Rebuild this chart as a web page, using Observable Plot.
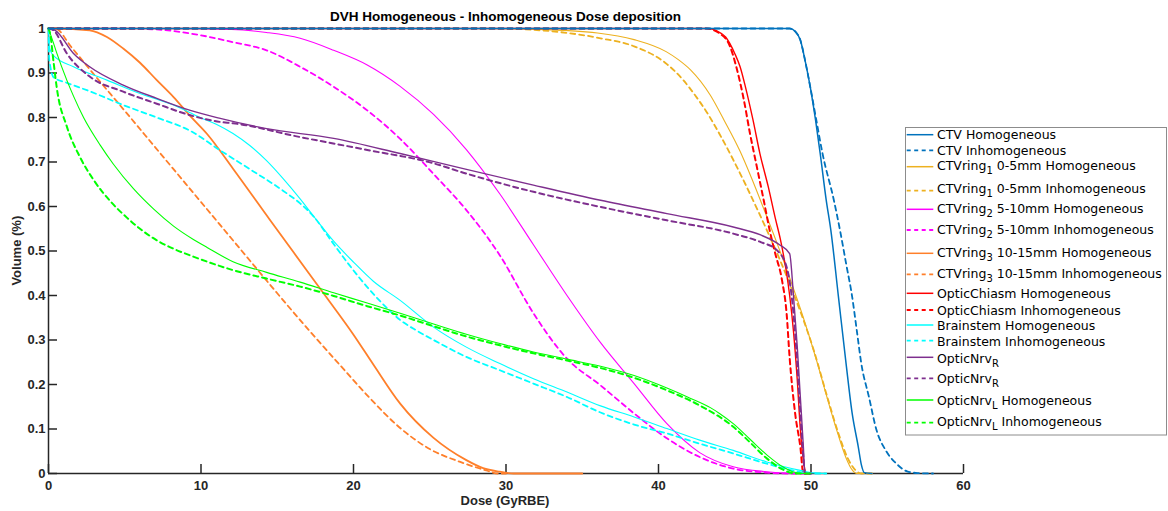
<!DOCTYPE html>
<html><head><meta charset="utf-8">
<script src="https://cdn.jsdelivr.net/npm/d3@7"></script>
<script src="https://cdn.jsdelivr.net/npm/@observablehq/plot@0.6"></script>
<style>
body{margin:0;background:#fff;}
#wrap{position:relative;width:1168px;height:511px;overflow:hidden;background:#fff;}
#overlay{position:absolute;left:0;top:0;pointer-events:none;}
</style></head><body><div id="wrap"></div>
<script>
const titleText = "DVH Homogeneous - Inhomogeneous Dose deposition";
const xLabel = "Dose (GyRBE)";
const yLabel = "Volume (%)";
const xTicks = [0,10,20,30,40,50,60];
const yTicks = [0,0.1,0.2,0.3,0.4,0.5,0.6,0.7,0.8,0.9,1];

// [dose, volume] pairs
const ctvHom = [[0,1],[48.6,1],[49.0,0.992],[49.3,0.974],[49.6,0.93],[49.95,0.869],[50.3,0.794],[50.6,0.72],[51.0,0.614],[51.3,0.547],[51.8,0.397],[52.3,0.247],[52.7,0.135],[53.1,0.06],[53.3,0.02],[53.5,0.002],[54,0]];
const ctvInh = [[0,1],[48.6,1],[49.0,0.992],[49.3,0.974],[49.6,0.93],[49.95,0.869],[50.35,0.794],[50.75,0.72],[51.5,0.614],[51.9,0.547],[52.3,0.472],[52.7,0.397],[53.0,0.322],[53.3,0.247],[53.8,0.172],[54.3,0.097],[54.9,0.052],[55.6,0.022],[56.3,0.005],[57,0.001],[58,0]];
const ring1Hom = [[0,1],[28,1],[32,0.998],[36,0.99],[38.4,0.975],[40.5,0.948],[41.3,0.93],[42.1,0.907],[43.4,0.85],[44.3,0.794],[45.35,0.724],[46.1,0.664],[46.9,0.595],[47.8,0.515],[48.6,0.44],[49.5,0.35],[50.4,0.25],[51.1,0.165],[51.8,0.085],[52.3,0.035],[52.7,0.008],[53.0,0],[53.5,0]];
const ring1Inh = [[0,1],[29,1],[31.8,0.997],[36.2,0.978],[38.4,0.96],[40.55,0.92],[41.6,0.885],[42.4,0.85],[43.2,0.81],[44.0,0.763],[44.9,0.705],[45.7,0.65],[46.5,0.592],[47.3,0.532],[48.0,0.477],[48.7,0.418],[49.4,0.355],[50.2,0.275],[51.0,0.18],[51.8,0.09],[52.4,0.035],[52.9,0.008],[53.3,0],[54,0]];
const ring2Hom = [[0,1],[8,1],[12,0.998],[14.3,0.991],[16.5,0.978],[18.7,0.951],[20.9,0.918],[23.06,0.87],[25.25,0.807],[27.4,0.728],[29.6,0.628],[31.8,0.514],[34.0,0.40],[36.2,0.294],[38.4,0.202],[40.55,0.112],[42.7,0.047],[44.9,0.015],[47.1,0.004],[49,0],[50,0]];
const ring2Inh = [[0,1],[5,1],[7,0.998],[9.95,0.985],[12,0.97],[14.3,0.951],[16.5,0.914],[18.7,0.869],[20.9,0.816],[23.06,0.752],[25.25,0.673],[27.4,0.592],[29.6,0.49],[31.8,0.36],[34.0,0.258],[36.2,0.198],[38.4,0.135],[40.55,0.079],[42.7,0.037],[44.9,0.011],[47.1,0.002],[48.5,0],[50,0]];
const ring3Hom = [[0,1],[0.5,1],[2.7,0.996],[3.83,0.981],[4.9,0.955],[6.0,0.923],[7.1,0.884],[8.2,0.846],[9.3,0.803],[10.4,0.763],[12.1,0.685],[14.5,0.571],[16.07,0.497],[18.25,0.395],[20.0,0.312],[21.3,0.245],[23.06,0.157],[25.25,0.08],[27.4,0.03],[28.5,0.012],[29.6,0.004],[30.5,0],[35,0]];
const ring3Inh = [[0,1],[0.44,1],[1.5,0.958],[3,0.896],[5,0.815],[7,0.733],[9,0.651],[11,0.569],[13,0.487],[15,0.405],[17,0.325],[19,0.248],[21,0.172],[23,0.104],[25,0.055],[27,0.026],[28.7,0.007],[29.5,0],[30,0]];
const chiasmHom = [[0,1],[43.3,1],[43.8,0.995],[44.4,0.981],[45.0,0.944],[45.35,0.914],[45.7,0.869],[46.2,0.794],[46.65,0.719],[47.2,0.644],[47.65,0.575],[48.0,0.525],[48.2,0.49],[48.4,0.45],[48.6,0.40],[48.85,0.32],[49.1,0.21],[49.3,0.10],[49.5,0.03],[49.7,0],[50,0]];
const chiasmInh = [[0,1],[43.1,1],[44.0,0.989],[44.7,0.959],[45.1,0.914],[45.6,0.839],[46.0,0.764],[46.45,0.689],[46.9,0.614],[47.3,0.545],[47.65,0.495],[48.1,0.434],[48.4,0.36],[48.6,0.26],[48.96,0.135],[49.3,0.06],[49.5,0],[50,0]];
const brainHom = [[0,1],[0.05,0.96],[0.3,0.94],[1.64,0.914],[3.83,0.884],[6.0,0.854],[8.2,0.828],[9.95,0.80],[11,0.785],[12.1,0.764],[13.2,0.737],[14.3,0.703],[15.4,0.662],[16.5,0.617],[17.5,0.573],[18.7,0.522],[20.0,0.475],[21.3,0.432],[23.06,0.389],[25.25,0.329],[27.4,0.284],[29.6,0.247],[31.8,0.213],[34.0,0.183],[36.2,0.152],[38.4,0.127],[40.55,0.101],[42.7,0.075],[44.9,0.052],[47.1,0.026],[49.3,0.007],[50,0.002],[51,0]];
const brainInh = [[0,1],[0.05,0.93],[0.35,0.89],[1.2,0.878],[2.7,0.859],[4.9,0.828],[7.1,0.8],[9.3,0.77],[11.26,0.726],[13.2,0.684],[15.4,0.635],[16.5,0.607],[17.4,0.577],[18.5,0.525],[19.6,0.474],[21.0,0.415],[22.4,0.365],[23.06,0.345],[24.2,0.32],[25.25,0.30],[27.4,0.262],[29.6,0.232],[31.8,0.202],[34.0,0.172],[36.2,0.137],[38.4,0.11],[40.55,0.09],[42.7,0.067],[44.9,0.045],[47.1,0.022],[48.8,0.007],[50,0],[51,0]];
const nrvRHom = [[0,1],[0.44,0.996],[1.64,0.944],[2.7,0.914],[4.9,0.873],[7.1,0.843],[9.3,0.816],[11.26,0.798],[14.3,0.775],[18.7,0.753],[23.06,0.719],[27.2,0.685],[31.8,0.648],[36.2,0.614],[40.55,0.584],[44.9,0.554],[46.7,0.536],[47.98,0.513],[48.6,0.494],[48.85,0.40],[49.1,0.284],[49.3,0.172],[49.5,0.06],[49.6,0],[50,0]];
const nrvRInh = [[0,1],[0.33,0.996],[1.2,0.944],[2.7,0.892],[4.9,0.858],[7.1,0.831],[9.3,0.805],[11.26,0.79],[12.1,0.787],[16.5,0.756],[20.9,0.727],[25.25,0.697],[27.2,0.676],[31.8,0.633],[36.2,0.599],[40.55,0.569],[44.9,0.539],[46.7,0.52],[47.76,0.502],[48.4,0.464],[48.85,0.36],[49.1,0.247],[49.3,0.135],[49.5,0.037],[49.6,0],[50,0]];
const nrvLHom = [[0,1],[0.3,0.97],[0.55,0.944],[1.2,0.884],[1.64,0.848],[2.3,0.80],[3.39,0.738],[4.26,0.695],[5.57,0.64],[6.9,0.594],[8.2,0.556],[9.5,0.526],[10.4,0.508],[12.1,0.476],[14.3,0.452],[16.5,0.43],[18.7,0.406],[20.9,0.383],[23.06,0.36],[25.25,0.336],[27.4,0.313],[29.6,0.292],[31.8,0.273],[34.0,0.257],[36.2,0.241],[38.4,0.22],[40.55,0.192],[41.9,0.172],[43.4,0.148],[44.0,0.135],[44.9,0.112],[46.0,0.077],[47.1,0.042],[48.2,0.014],[48.8,0.004],[49.5,0],[50,0]];
const nrvLInh = [[0,1],[0.1,0.99],[0.33,0.925],[0.55,0.865],[1.2,0.78],[2.08,0.71],[2.95,0.66],[4.05,0.612],[5.14,0.575],[6.0,0.55],[7.1,0.524],[8.2,0.505],[9.3,0.49],[11.26,0.466],[12.1,0.457],[14.3,0.438],[16.5,0.42],[18.7,0.399],[20.9,0.376],[23.06,0.355],[25.25,0.331],[27.4,0.308],[29.6,0.288],[31.8,0.27],[34.0,0.254],[36.2,0.237],[38.4,0.215],[40.55,0.187],[42.7,0.153],[44.9,0.105],[46.0,0.07],[47.1,0.034],[48.2,0.008],[49,0],[50,0]];

const seriesData = [ctvHom, ctvInh, ring1Hom, ring1Inh, ring2Hom, ring2Inh, ring3Hom, ring3Inh, chiasmHom, chiasmInh, brainHom, brainInh, nrvRHom, nrvRInh, nrvLHom, nrvLInh];
const legendLabels = [
  ["CTV Homogeneous"], ["CTV Inhomogeneous"],
  ["CTVring","1"," 0-5mm Homogeneous"], ["CTVring","1"," 0-5mm Inhomogeneous"],
  ["CTVring","2"," 5-10mm Homogeneous"], ["CTVring","2"," 5-10mm Inhomogeneous"],
  ["CTVring","3"," 10-15mm Homogeneous"], ["CTVring","3"," 10-15mm Inhomogeneous"],
  ["OpticChiasm Homogeneous"], ["OpticChiasm Inhomogeneous"],
  ["Brainstem Homogeneous"], ["Brainstem Inhomogeneous"],
  ["OpticNrv","R",""], ["OpticNrv","R",""],
  ["OpticNrv","L"," Homogeneous"], ["OpticNrv","L"," Inhomogeneous"]
];

// styles
const colors = ["#0072BD","#0072BD","#EDB120","#EDB120","#FF00FF","#FF00FF","#FF7F2A","#FF7F2A","#FF0000","#FF0000","#00FFFF","#00FFFF","#7E2F8E","#7E2F8E","#00FF00","#00FF00"];
const dashed = [false,true,false,true,false,true,false,true,false,true,false,true,false,true,false,true];
const widths = [1.5,1.8,1.1,1.8,1.1,1.8,1.8,1.8,1.4,2,1.1,1.8,1.4,2,1.1,2];
const drawOrder = [2,3,4,5,6,7,8,9,10,11,12,13,14,15,0,1];
const legendRowY = [134.7,150.3,166.7,190.7,209.3,230,253.3,274.3,293.3,310,325,340.7,357.3,378.3,400,422.7];
const legendTextMid = [134.5,150.5,165.3,188,208.7,229,252,273.3,293.8,310,325,341,358,378.7,400,421.7];

const axisColor = "#262626";
const plot = Plot.plot({
  width: 1168, height: 511,
  marginLeft: 48, marginRight: 205, marginTop: 28, marginBottom: 38,
  x: {domain: [0, 60]},
  y: {domain: [0, 1]},
  style: {fontFamily: "'Liberation Sans', Arial, sans-serif", fontSize: "13px", fontWeight: "bold", color: axisColor, background: "transparent"},
  marks: [
    Plot.ruleX([0], {stroke: axisColor, strokeWidth: 1.5}),
    Plot.ruleY([0], {stroke: axisColor, strokeWidth: 1.5}),
    Plot.ruleX(xTicks, {y1: 0, y2: 0, insetBottom: 9, stroke: axisColor, strokeWidth: 1.5}),
    Plot.ruleY(yTicks, {x1: 0, x2: 0, insetRight: -9, stroke: axisColor, strokeWidth: 1.5}),
    Plot.axisX({ticks: xTicks, tickSize: 0, tickPadding: 7, label: null, tickFormat: d => String(d)}),
    Plot.axisY({ticks: yTicks, tickSize: 0, tickPadding: 3, label: null, tickFormat: d => String(d)}),
    ...drawOrder.map(i => Plot.line(seriesData[i], {
      x: d => d[0], y: d => d[1], curve: "monotone-x",
      stroke: colors[i], strokeWidth: widths[i],
      strokeDasharray: dashed[i] ? "5,4" : null
    }))
  ]
});
const wrap = document.getElementById("wrap");
wrap.appendChild(plot);

// overlay: title, axis labels, legend
const svg = d3.select(wrap).append("svg").attr("id", "overlay")
  .attr("width", 1168).attr("height", 511)
  .style("font-family", "'Liberation Sans', Arial, sans-serif");
svg.append("text").attr("x", 505.5).attr("y", 21).attr("text-anchor", "middle")
  .attr("font-size", 13.5).attr("font-weight", "bold").attr("fill", "#000").text(titleText);
svg.append("text").attr("x", 505).attr("y", 505).attr("text-anchor", "middle")
  .attr("font-size", 13).attr("font-weight", "bold").attr("fill", axisColor).text(xLabel);
svg.append("text").attr("transform", "translate(21,250.7) rotate(-90)").attr("text-anchor", "middle")
  .attr("font-size", 13).attr("font-weight", "bold").attr("fill", axisColor).text(yLabel);

const lg = svg.append("g").style("font-family", "'DejaVu Sans', sans-serif");
lg.append("rect").attr("x", 905.5).attr("y", 127.5).attr("width", 261).attr("height", 307.5)
  .attr("fill", "#fff").attr("stroke", "#8c8c8c").attr("stroke-width", 1);
legendLabels.forEach((parts, i) => {
  lg.append("line").attr("x1", 906.7).attr("x2", 933.3)
    .attr("y1", legendRowY[i]).attr("y2", legendRowY[i])
    .attr("stroke", colors[i]).attr("stroke-width", dashed[i] ? 1.8 : 1.5)
    .attr("stroke-dasharray", dashed[i] ? "4,3.5" : null);
  const t = lg.append("text").attr("x", 937).attr("y", legendTextMid[i] + 4.5)
    .attr("font-size", 12.5).attr("fill", "#000");
  t.append("tspan").text(parts[0]);
  if (parts.length > 1) {
    t.append("tspan").attr("dy", 4).attr("font-size", 10).text(parts[1]);
    if (parts[2]) t.append("tspan").attr("dy", -4).text(parts[2]);
  }
});
</script></body></html>
